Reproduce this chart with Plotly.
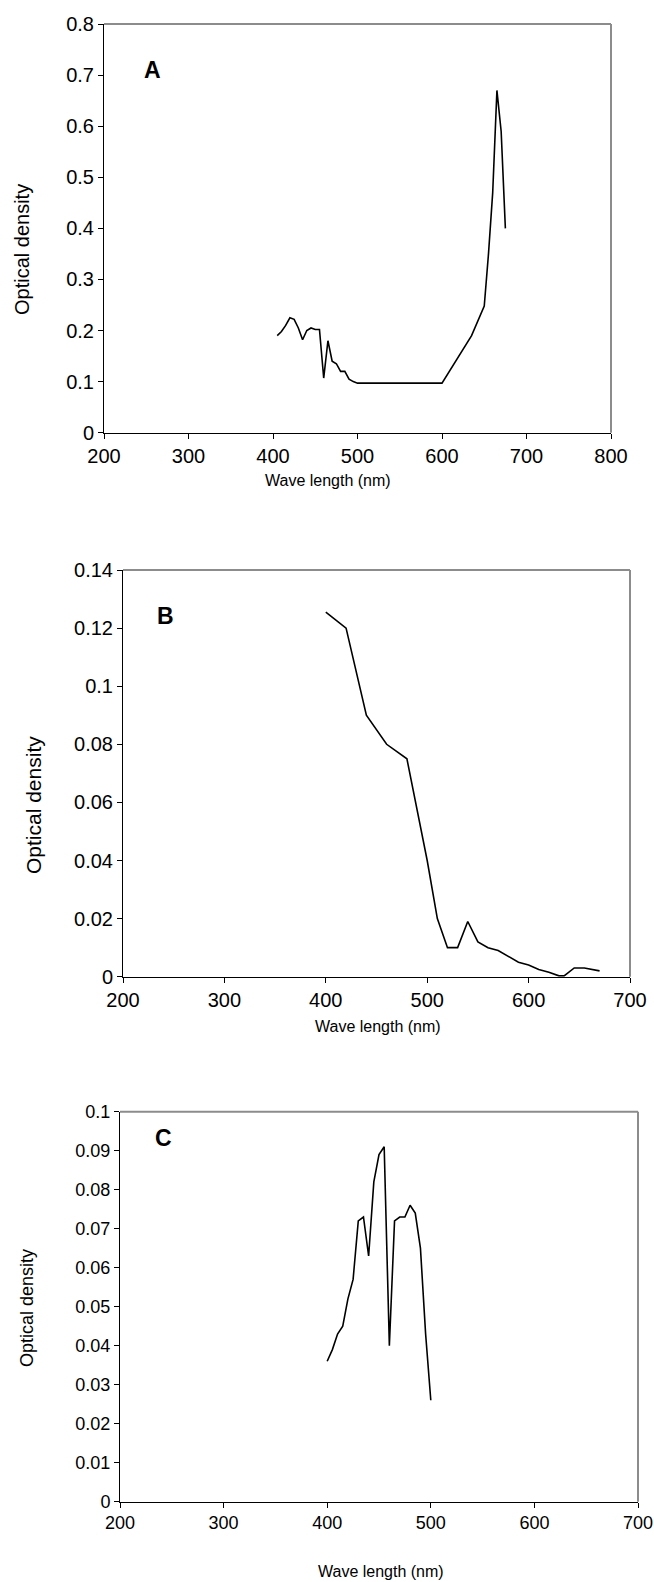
import plotly.graph_objects as go

# panel A
wl_a = [405, 410, 415, 420, 425, 430, 435, 440, 445, 450, 455, 460, 465, 470, 475,
        480, 485, 490, 495, 500, 600, 635, 650, 655, 660, 665, 670, 675]
od_a = [0.19, 0.198, 0.21, 0.225, 0.222, 0.205, 0.182, 0.2, 0.205, 0.202, 0.202, 0.107,
        0.18, 0.14, 0.135, 0.12, 0.12, 0.105, 0.1, 0.097, 0.097, 0.19, 0.248, 0.35,
        0.47, 0.67, 0.59, 0.40]

# panel B
wl_b = [400, 420, 440, 460, 480, 500, 510, 520, 530, 540, 550, 560, 570, 580, 590,
        600, 610, 620, 630, 635, 645, 655, 670]
od_b = [0.1255, 0.12, 0.09, 0.08, 0.075, 0.04, 0.02, 0.01, 0.01, 0.019, 0.012, 0.01,
        0.009, 0.007, 0.005, 0.004, 0.0025, 0.0015, 0.0003, 0.0003, 0.003, 0.003, 0.002]

# panel C
wl_c = [400, 405, 410, 415, 420, 425, 430, 435, 440, 445, 450, 455, 460, 465, 470,
        475, 480, 485, 490, 495, 500]
od_c = [0.036, 0.039, 0.043, 0.045, 0.052, 0.057, 0.072, 0.073, 0.063, 0.082, 0.089,
        0.091, 0.040, 0.072, 0.073, 0.073, 0.076, 0.074, 0.065, 0.043, 0.026]

x_ticks_a = [200, 300, 400, 500, 600, 700, 800]
y_ticks_a = [0, 0.1, 0.2, 0.3, 0.4, 0.5, 0.6, 0.7, 0.8]
x_ticks_bc = [200, 300, 400, 500, 600, 700]
y_ticks_b = [0, 0.02, 0.04, 0.06, 0.08, 0.1, 0.12, 0.14]
y_ticks_c = [0, 0.01, 0.02, 0.03, 0.04, 0.05, 0.06, 0.07, 0.08, 0.09, 0.1]

NARROW = "Liberation Sans Narrow, Arial Narrow, Liberation Sans, Arial"
REG = "Liberation Sans, Arial"
W, H = 654, 1582

fig = go.Figure()
line = dict(color="black", width=1.6)
fig.add_trace(go.Scatter(x=wl_a, y=od_a, mode="lines", line=line, xaxis="x", yaxis="y"))
fig.add_trace(go.Scatter(x=wl_b, y=od_b, mode="lines", line=line, xaxis="x2", yaxis="y2"))
fig.add_trace(go.Scatter(x=wl_c, y=od_c, mode="lines", line=line, xaxis="x3", yaxis="y3"))


def ax(dom, rng, ticks, anchor, font):
    return dict(domain=dom, range=rng, tickvals=ticks, anchor=anchor, showgrid=False,
                zeroline=False, showline=True, linecolor="black", linewidth=1,
                ticks="outside", ticklen=5, tickcolor="black", tickfont=font,
                automargin=False)


fa = dict(family=NARROW, size=20, color="black")
fb = dict(family=NARROW, size=20, color="black")
fc = dict(family=REG, size=18, color="black")

# page pixel boxes -> paper fractions
def dx(a, b):
    return [a / W, b / W]


def dy(top, bottom):
    return [1 - bottom / H, 1 - top / H]


fig.update_layout(
    width=W, height=H, margin=dict(l=0, r=0, t=0, b=0, autoexpand=False),
    paper_bgcolor="white", plot_bgcolor="white", showlegend=False,
    xaxis=ax(dx(104, 611), [200, 800], x_ticks_a, "y", fa),
    yaxis=ax(dy(24, 432.7), [0, 0.8], y_ticks_a, "x", fa),
    xaxis2=ax(dx(123, 630), [200, 700], x_ticks_bc, "y2", fb),
    yaxis2=ax(dy(570, 976.7), [0, 0.14], y_ticks_b, "x2", fb),
    xaxis3=ax(dx(120, 638), [200, 700], x_ticks_bc, "y3", fc),
    yaxis3=ax(dy(1111.7, 1501.7), [0, 0.1], y_ticks_c, "x3", fc),
)

# gray top/right frame
for xr, yr in [("x", "y"), ("x2", "y2"), ("x3", "y3")]:
    fig.add_shape(type="line", xref=xr + " domain", yref=yr + " domain",
                  x0=0, x1=1, y0=1, y1=1, line=dict(color="#8c8c8c", width=2))
    fig.add_shape(type="line", xref=xr + " domain", yref=yr + " domain",
                  x0=1, x1=1, y0=0, y1=1, line=dict(color="#8c8c8c", width=2))


def ann(text, x, y, font, angle=0):
    fig.add_annotation(text=text, x=x / W, y=1 - y / H,
                       xref="paper", yref="paper", showarrow=False, textangle=angle,
                       font=font, xanchor="center", yanchor="middle")


ann("Wave length (nm)", 328, 480, dict(family=NARROW, size=16, color="black"))
ann("Optical density", 22, 250, dict(family=NARROW, size=20, color="black"), -90)
ann("<b>A</b>", 152, 70, dict(family=REG, size=23, color="black"))

ann("Wave length (nm)", 378, 1026, dict(family=NARROW, size=16, color="black"))
ann("Optical density", 33, 805, dict(family=NARROW, size=21, color="black"), -90)
ann("<b>B</b>", 165, 616, dict(family=REG, size=23, color="black"))

ann("Wave length (nm)", 381, 1571, dict(family=REG, size=16, color="black"))
ann("Optical density", 27, 1308, dict(family=REG, size=18, color="black"), -90)
ann("<b>C</b>", 164, 1138, dict(family=REG, size=23, color="black"))

# drop the default page margin so the figure fills the window exactly
fig.write_html("out.html", config={"displayModeBar": False},
               post_script="document.body.style.margin='0';document.body.style.overflow='hidden';")
